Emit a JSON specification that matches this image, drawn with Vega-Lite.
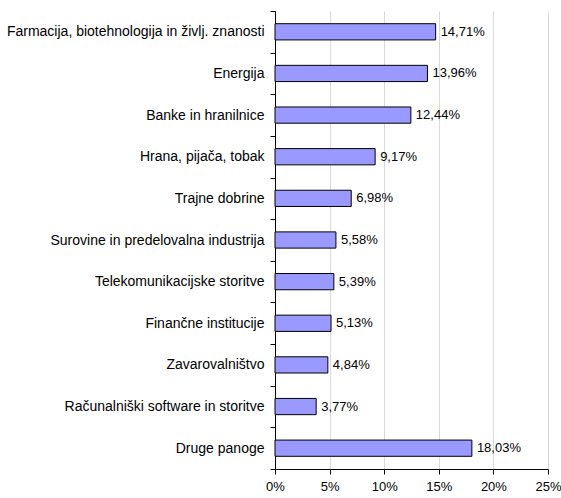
{
  "$schema": "https://vega.github.io/schema/vega-lite/v6.json",
  "width": 273,
  "height": 458,
  "autosize": "none",
  "padding": {"left": 275, "top": 11, "right": 13, "bottom": 29},
  "config": {
    "locale": {"number": {"decimal": ",", "thousands": ".", "grouping": [3], "currency": ["", " €"]}},
    "font": "Liberation Sans",
    "view": {"stroke": null},
    "background": "white"
  },
  "data": {
    "values": [
      {"panoga": "Farmacija, biotehnologija in življ. znanosti", "delez": 0.1471},
      {"panoga": "Energija", "delez": 0.1396},
      {"panoga": "Banke in hranilnice", "delez": 0.1244},
      {"panoga": "Hrana, pijača, tobak", "delez": 0.0917},
      {"panoga": "Trajne dobrine", "delez": 0.0698},
      {"panoga": "Surovine in predelovalna industrija", "delez": 0.0558},
      {"panoga": "Telekomunikacijske storitve", "delez": 0.0539},
      {"panoga": "Finančne institucije", "delez": 0.0513},
      {"panoga": "Zavarovalništvo", "delez": 0.0484},
      {"panoga": "Računalniški software in storitve", "delez": 0.0377},
      {"panoga": "Druge panoge", "delez": 0.1803}
    ]
  },
  "encoding": {
    "y": {
      "field": "panoga",
      "type": "nominal",
      "sort": null,
      "scale": {"paddingInner": 0, "paddingOuter": 0},
      "axis": {
        "title": null,
        "tickBand": "extent",
        "labelFontSize": 14,
        "labelColor": "black",
        "labelPadding": 6,
        "tickSize": 5,
        "tickColor": "black",
        "domainColor": "black",
        "labelLimit": 400
      }
    },
    "x": {
      "field": "delez",
      "type": "quantitative",
      "scale": {"domain": [0, 0.25], "nice": false},
      "axis": {
        "title": null,
        "format": ".0%",
        "values": [0, 0.05, 0.1, 0.15, 0.2, 0.25],
        "labelFontSize": 13,
        "labelColor": "black",
        "labelPadding": 6,
        "tickSize": 5,
        "tickColor": "black",
        "domainColor": "black",
        "grid": true,
        "gridColor": "#d9d9d9",
        "labelFlush": false
      }
    }
  },
  "layer": [
    {
      "mark": {"type": "bar", "fill": "#9999FF", "stroke": "black", "strokeWidth": 1, "height": {"band": 0.39}}
    },
    {
      "mark": {"type": "text", "align": "left", "baseline": "middle", "dx": 5, "fontSize": 13, "color": "black"},
      "encoding": {"text": {"field": "delez", "type": "quantitative", "format": ".2%"}}
    }
  ]
}
